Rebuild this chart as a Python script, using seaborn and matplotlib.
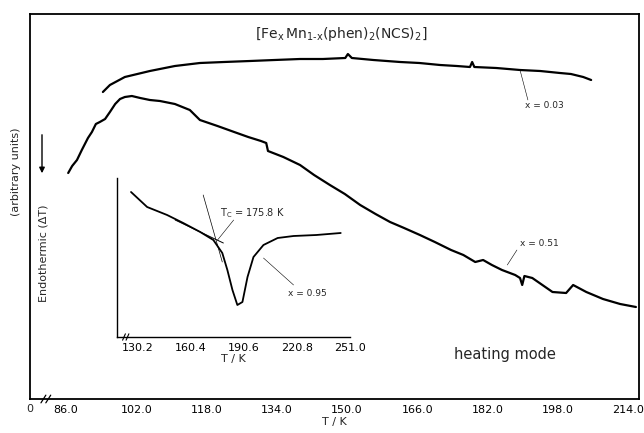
"""
DTA heating curves for [FexMn1-x(phen)2(NCS)2], redrawn with seaborn.
"""

import pandas as pd
import numpy as np
import matplotlib
matplotlib.use("Agg")
import matplotlib.pyplot as plt
import seaborn as sns

# --- main panel data (T / K, signal in arbitrary units) ---
t_x003 = [94.4, 96.0, 99.4, 105.1, 110.8, 116.5, 122.0, 127.9, 133.5, 139.3, 144.5,
          149.6, 150.2, 151.1, 156.0, 162.1, 166.5, 171.2, 175.0, 178.0, 178.5, 179.0,
          184.0, 189.4, 194.0, 198.5, 201.0, 203.8, 205.6]
s_x003 = [307, 314, 322, 328, 333, 336, 337, 338, 339, 340, 340,
          341, 345, 341, 339, 337, 336, 334, 333, 332, 337, 332,
          331, 329, 328, 326, 325, 322, 319]

t_x051 = [86.5, 87.4, 88.5, 89.6, 91.0, 91.9, 92.8, 93.7, 94.9, 96.0, 97.2, 98.3,
          99.4, 101.0, 102.9, 105.1, 107.4, 110.8, 114.2, 116.5, 120.5, 124.3, 127.5,
          130.4, 131.6, 132.0, 135.5, 139.3, 142.5, 146.1, 149.5, 153.0, 156.5, 159.8,
          163.0, 166.6, 170.0, 173.7, 176.5, 179.2, 181.0, 183.0, 185.3, 188.3, 189.4,
          189.9, 190.4, 192.2, 194.5, 196.8, 199.9, 201.5, 204.5, 208.3, 212.2, 215.8]
s_x051 = [226, 233, 239, 249, 261, 267, 275, 277, 280, 287, 295, 300,
          302, 303, 301, 299, 298, 295, 289, 279, 273, 267, 262,
          258, 256, 248, 242, 234, 224, 214, 205, 194, 185, 177,
          171, 164, 157, 149, 144, 137, 139, 134, 129, 124, 121,
          114, 123, 121, 114, 107, 106, 114, 107, 100, 95, 92]

main_ticks = [86.0, 102.0, 118.0, 134.0, 150.0, 166.0, 182.0, 198.0, 214.0]

# --- inset data (x = 0.95) ---
t_x095 = [126.2, 135.4, 146.8, 156.0, 165.7, 173.2, 178.3, 181.2, 184.1, 186.9,
          189.8, 192.7, 196.1, 201.8, 209.9, 219.0, 232.0, 245.9]
s_x095 = [145, 130, 122, 114, 105, 97, 84, 67, 47, 32,
          35, 60, 80, 92, 99, 101, 102, 104]
inset_ticks = [130.2, 160.4, 190.6, 220.8, 251.0]

# construction lines for Tc
base_t = [151.4, 178.9]
base_s = [117, 94]
steep_t = [167.4, 178.3]
steep_s = [142, 75]

sns.set_theme(style="white")
plt.rcParams["font.family"] = ["DejaVu Sans"]
plt.rcParams["mathtext.fontset"] = "dejavusans"

fig = plt.figure(figsize=(6.44, 4.33), dpi=100)
ax = fig.add_axes([30 / 644, 34 / 433, 609 / 644, 385 / 433])

df_a = pd.DataFrame({"T": t_x003, "S": s_x003})
df_b = pd.DataFrame({"T": t_x051, "S": s_x051})
sns.lineplot(data=df_a, x="T", y="S", sort=False, estimator=None, color="black", lw=1.6, ax=ax)
sns.lineplot(data=df_b, x="T", y="S", sort=False, estimator=None, color="black", lw=1.6, ax=ax)

ax.set_xlim(77.8, 216.5)
ax.set_ylim(0, 385)
ax.set_xticks(main_ticks)
ax.set_xticklabels([f"{t:.1f}" for t in main_ticks], fontsize=8)
ax.set_yticks([])
ax.tick_params(axis="x", direction="in", length=3, width=0.8, pad=4, colors="black")
ax.set_xlabel("T / K", fontsize=8, labelpad=2)
ax.set_ylabel("")
for sp in ax.spines.values():
    sp.set_color("black")
    sp.set_linewidth(1.3)

# axis break and "0" label
ax.text(0.0, -0.012, "0", transform=ax.transAxes, ha="center", va="top", fontsize=8)
for dx in (0.022, 0.030):
    ax.plot([dx - 0.004, dx + 0.004], [-0.01, 0.01], transform=ax.transAxes,
            color="black", lw=0.9, clip_on=False)

# labels on main panel
ax.plot([189.4, 191.2], [329, 299], color="black", lw=0.4)
ax.text(190.5, 294, "x = 0.03", fontsize=6.5, ha="left", va="center")
ax.plot([188.7, 186.5], [149, 134], color="black", lw=0.4)
ax.text(189.4, 156, "x = 0.51", fontsize=6.5, ha="left", va="center")
ax.text(148.6, 365, r"$\left[\mathrm{Fe_x\,Mn_{1\text{-}x}(phen)_2(NCS)_2}\right]$",
        fontsize=10, ha="center", va="center")
ax.text(186.0, 44, "heating mode", fontsize=10.5, ha="center", va="center")

# y labels
fig.text(16 / 644, 1 - 172 / 433, "(arbitrary units)", rotation=90, fontsize=8,
         ha="center", va="center")
fig.text(44 / 644, 1 - 253 / 433, "Endothermic (ΔT)", rotation=90, fontsize=8,
         ha="center", va="center")
ax.annotate("", xy=(42 / 644, 1 - 176 / 433), xytext=(42 / 644, 1 - 132 / 433),
            xycoords="figure fraction",
            arrowprops=dict(arrowstyle="-|>", color="black", lw=1.0, mutation_scale=8))

# --- inset ---
ins = fig.add_axes([117 / 644, 96 / 433, 233 / 644, 159 / 433])
df_c = pd.DataFrame({"T": t_x095, "S": s_x095})
sns.lineplot(data=df_c, x="T", y="S", sort=False, estimator=None, color="black", lw=1.3, ax=ins)
ins.plot(base_t, base_s, color="black", lw=0.7)
ins.plot(steep_t, steep_s, color="black", lw=0.5)
ins.plot([175.6, 184.8], [97, 117], color="black", lw=0.4)
ins.text(177.0, 124, r"$\mathrm{T_C}$ = 175.8 K", fontsize=7, ha="left", va="center")
ins.plot([201.8, 219.0], [79, 52], color="black", lw=0.4)
ins.text(216.0, 44, "x = 0.95", fontsize=6.5, ha="left", va="center")

ins.set_xlim(118.2, 251.2)
ins.set_ylim(0, 159)
ins.set_xticks(inset_ticks)
ins.set_xticklabels([f"{t:.1f}" for t in inset_ticks], fontsize=8)
ins.set_yticks([70, 114])
ins.set_yticklabels([])
ins.tick_params(axis="both", direction="in", length=3, width=0.8, pad=4, colors="black")
ins.set_xlabel("T / K", fontsize=8, labelpad=1)
ins.set_ylabel("")
ins.patch.set_alpha(0)
for side in ("top", "right"):
    ins.spines[side].set_visible(False)
for side in ("left", "bottom"):
    ins.spines[side].set_color("black")
    ins.spines[side].set_linewidth(1.0)
for dx in (0.030, 0.045):
    ins.plot([dx - 0.006, dx + 0.006], [-0.02, 0.02], transform=ins.transAxes,
             color="black", lw=0.8, clip_on=False)

fig.savefig("out.png", dpi=100)
